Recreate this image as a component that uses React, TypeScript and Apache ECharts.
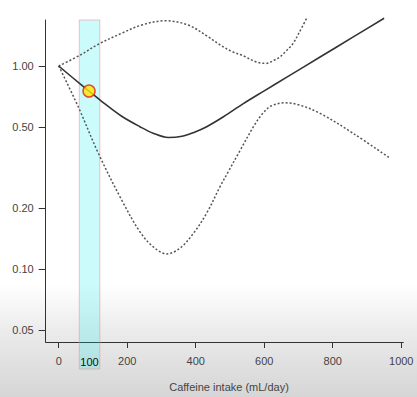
import React, { useEffect, useRef } from "react";
import * as echarts from "echarts";

// ---- data ----
const xTickValues = [0, 200, 400, 600, 800, 1000];
const yTickValues = [0.05, 0.1, 0.2, 0.5, 1.0];
const xAxisTitle = "Caffeine intake (mL/day)";

const estimateX = [0, 40, 88.5, 130, 184, 237, 276, 320, 360, 393, 432, 481, 539, 600, 666, 763, 860, 950];
const estimateY = [1.0, 0.878, 0.753, 0.661, 0.566, 0.503, 0.467, 0.445, 0.451, 0.47, 0.503, 0.563, 0.653, 0.755, 0.882, 1.107, 1.39, 1.718];

const upperX = [0, 62, 116, 184, 242, 310, 378, 437, 471, 505, 540, 575, 605, 630, 646, 665, 684, 702, 724];
const upperY = [1.0, 1.13, 1.28, 1.45, 1.59, 1.67, 1.59, 1.39, 1.27, 1.18, 1.12, 1.05, 1.03, 1.07, 1.11, 1.19, 1.29, 1.46, 1.72];

const lowerX = [0, 57, 116, 184, 237, 276, 315, 354, 393, 432, 471, 495, 529, 575, 598, 620, 661, 700, 763, 860, 968];
const lowerY = [1.0, 0.63, 0.371, 0.219, 0.153, 0.129, 0.119, 0.127, 0.15, 0.189, 0.255, 0.302, 0.383, 0.524, 0.59, 0.636, 0.659, 0.645, 0.585, 0.466, 0.351];

const highlightBand = [60, 120];
const highlightLabel = "100";
const pointX = 88.5;
const pointY = 0.753;

const xMin = -38;
const xMax = 1006;
const yMin = 0.04388;
const yMax = 1.684;

const FONT = "'Liberation Sans', Arial, Helvetica, sans-serif";
const lg = (v: number) => Math.log10(v);

export default function App() {
  const ref = useRef<HTMLDivElement>(null);

  useEffect(() => {
    if (!ref.current) return;
    const chart = echarts.init(ref.current, null, { renderer: "svg" });

    const toPairs = (xs: number[], ys: number[]) => xs.map((x, i) => [x, lg(ys[i])]);

    const dashed = {
      color: "#555",
      width: 1.5,
      type: [2, 2] as any,
    };

    chart.setOption({
      animation: false,
      backgroundColor: "transparent",
      grid: { left: 45.7, right: 13.7, top: 20, bottom: 55, containLabel: false },
      xAxis: {
        type: "value",
        min: xMin,
        max: xMax,
        axisLine: { show: true, onZero: false, lineStyle: { color: "#333", width: 1 } },
        axisTick: { show: true, customValues: xTickValues, length: 6, lineStyle: { color: "#333", width: 1 } },
        axisLabel: {
          customValues: xTickValues,
          formatter: (v: number) => String(v),
          color: "#444",
          fontSize: 11,
          fontFamily: FONT,
          margin: 13,
        },
        splitLine: { show: false },
      },
      yAxis: {
        type: "value",
        min: lg(yMin),
        max: lg(yMax),
        axisLine: { show: true, onZero: false, lineStyle: { color: "#333", width: 1 } },
        axisTick: { show: true, customValues: yTickValues.map(lg), length: 7, lineStyle: { color: "#333", width: 1 } },
        axisLabel: {
          customValues: yTickValues.map(lg),
          formatter: (v: number) => Math.pow(10, v).toFixed(2),
          color: "#444",
          fontSize: 11,
          fontFamily: FONT,
          margin: 12,
        },
        splitLine: { show: false },
      },
      graphic: [
        {
          type: "text",
          x: 229,
          y: 387,
          style: {
            text: xAxisTitle,
            align: "center",
            verticalAlign: "middle",
            fill: "#444",
            font: `11px ${FONT}`,
          },
        },
      ],
      series: [
        {
          type: "custom",
          z: 1,
          clip: false,
          silent: true,
          encode: { x: [0, 1] },
          data: [[highlightBand[0], highlightBand[1]]],
          renderItem: (params: any, api: any) => {
            const x0 = api.coord([api.value(0), 0])[0];
            const x1 = api.coord([api.value(1), 0])[0];
            const cs = params.coordSys;
            const top = cs.y;
            const bottom = cs.y + cs.height;
            return {
              type: "group",
              children: [
                {
                  type: "rect",
                  shape: { x: x0, y: top, width: x1 - x0, height: bottom - top + 27 },
                  style: { fill: "rgba(0,235,235,0.2)", stroke: "rgba(245,140,140,0.55)", lineWidth: 1 },
                },
                {
                  type: "text",
                  style: {
                    text: highlightLabel,
                    x: (x0 + x1) / 2,
                    y: bottom + 19.5,
                    align: "center",
                    verticalAlign: "middle",
                    fill: "#111",
                    font: `11px ${FONT}`,
                  },
                },
              ],
            };
          },
        },
        {
          type: "line",
          z: 3,
          data: toPairs(upperX, upperY),
          smooth: 0.35,
          showSymbol: false,
          symbol: "none",
          clip: false,
          lineStyle: dashed,
        },
        {
          type: "line",
          z: 3,
          data: toPairs(lowerX, lowerY),
          smooth: 0.35,
          showSymbol: false,
          symbol: "none",
          clip: false,
          lineStyle: dashed,
        },
        {
          type: "line",
          z: 4,
          data: toPairs(estimateX, estimateY),
          smooth: 0.35,
          showSymbol: false,
          symbol: "none",
          clip: false,
          lineStyle: { color: "#333", width: 1.6 },
        },
        {
          type: "scatter",
          z: 5,
          data: [[pointX, lg(pointY)]],
          symbol: "circle",
          symbolSize: 12,
          itemStyle: { color: "#ffe800", borderColor: "#e62020", borderWidth: 1.5 },
        },
      ],
    });

    return () => chart.dispose();
  }, []);

  return (
    <div
      style={{
        position: "absolute",
        left: 0,
        top: 0,
        width: 417,
        height: 397,
        background:
          "linear-gradient(to bottom, #ffffff 0px, #ffffff 285px, #ececec 330px, #dedede 370px, #d6d6d6 397px)",
      }}
    >
      <div ref={ref} style={{ width: 417, height: 397 }} />
    </div>
  );
}
